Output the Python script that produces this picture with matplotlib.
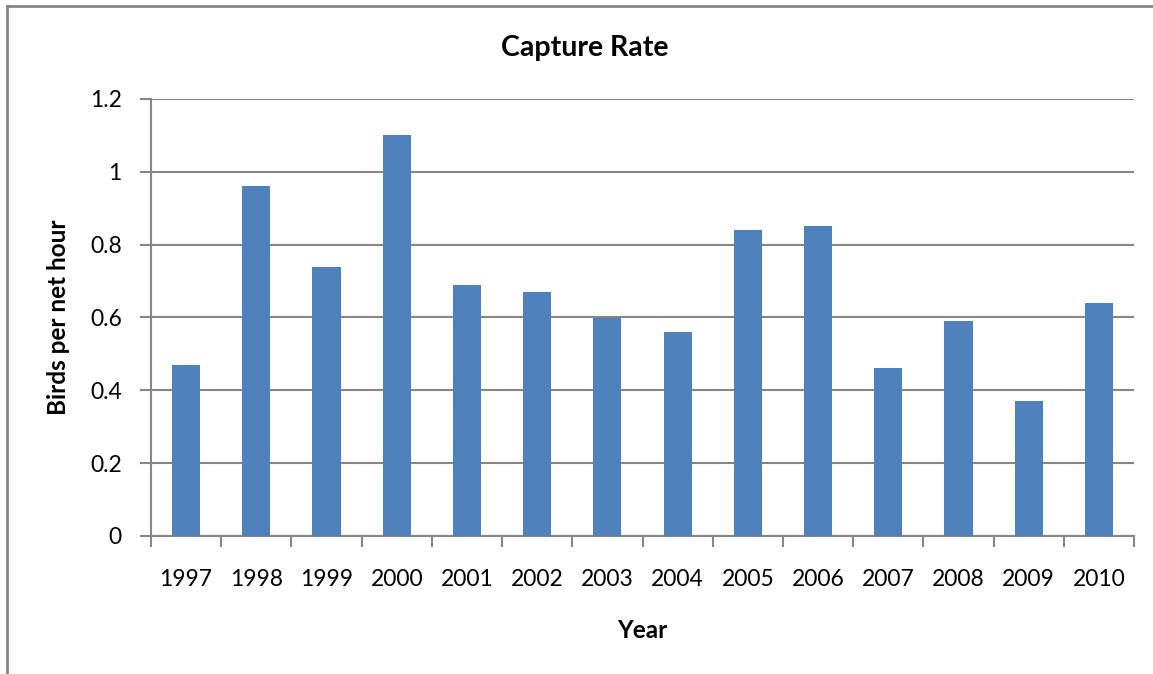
import matplotlib
matplotlib.use("Agg")
import matplotlib.pyplot as plt
from matplotlib.lines import Line2D
from matplotlib.ticker import MultipleLocator, FixedLocator, FuncFormatter
import numpy as np

years = ["1997", "1998", "1999", "2000", "2001", "2002", "2003",
         "2004", "2005", "2006", "2007", "2008", "2009", "2010"]
rates = [0.47, 0.96, 0.74, 1.10, 0.69, 0.67, 0.60,
         0.56, 0.84, 0.85, 0.46, 0.59, 0.37, 0.64]

plt.rcParams["font.family"] = ["Lato", "DejaVu Sans"]

W, H = 1153, 674
fig = plt.figure(figsize=(W / 100, H / 100), dpi=100)
ax = fig.add_axes([151 / W, 1 - 536 / H, (1134 - 151) / W, (536 - 99) / H])

grey = "#868686"
x = np.arange(len(years))
ax.bar(x, rates, width=0.4, color="#4F81BD", zorder=3)

ax.set_xlim(-0.5, len(years) - 0.5)
ax.set_ylim(0, 1.2)
ax.yaxis.set_major_locator(MultipleLocator(0.2))
ax.yaxis.set_major_formatter(FuncFormatter(lambda v, p: f"{v:g}"))
ax.grid(axis="y", color=grey, linewidth=1.5, zorder=0)

# tick marks sit on category boundaries, labels at the centres
ax.xaxis.set_major_locator(FixedLocator(np.arange(-0.5, len(years), 1.0)))
ax.xaxis.set_major_formatter(FuncFormatter(lambda v, p: ""))
ax.xaxis.set_minor_locator(FixedLocator(x))
ax.set_xticklabels(years, minor=True)
ax.tick_params(axis="x", which="major", length=8, width=1.5, color=grey)
ax.tick_params(axis="x", which="minor", length=0, pad=24, labelsize=16.5)
ax.tick_params(axis="y", length=8, width=1.5, color=grey, pad=13, labelsize=16.5)

for side in ("top", "right"):
    ax.spines[side].set_visible(False)
for side in ("left", "bottom"):
    ax.spines[side].set_color(grey)
    ax.spines[side].set_linewidth(1.5)

fig.text(585 / W, 1 - 48 / H, "Capture Rate", ha="center", va="center",
         fontsize=20.5, fontweight="bold")
fig.text(642 / W, 1 - 631 / H, "Year", ha="center", va="center",
         fontsize=17.5, fontweight="bold")
fig.text(58 / W, 1 - 317 / H, "Birds per net hour", ha="center", va="center",
         rotation=90, fontsize=17.5, fontweight="bold")

# chart frame, clipped at the right and bottom edges
fig.add_artist(Line2D([7 / W, 1.0], [1 - 6 / H, 1 - 6 / H], color=grey,
                      linewidth=2, transform=fig.transFigure))
fig.add_artist(Line2D([7 / W, 7 / W], [1 - 6 / H, 0.0], color=grey,
                      linewidth=2, transform=fig.transFigure))

fig.savefig("out.png", dpi=100)
